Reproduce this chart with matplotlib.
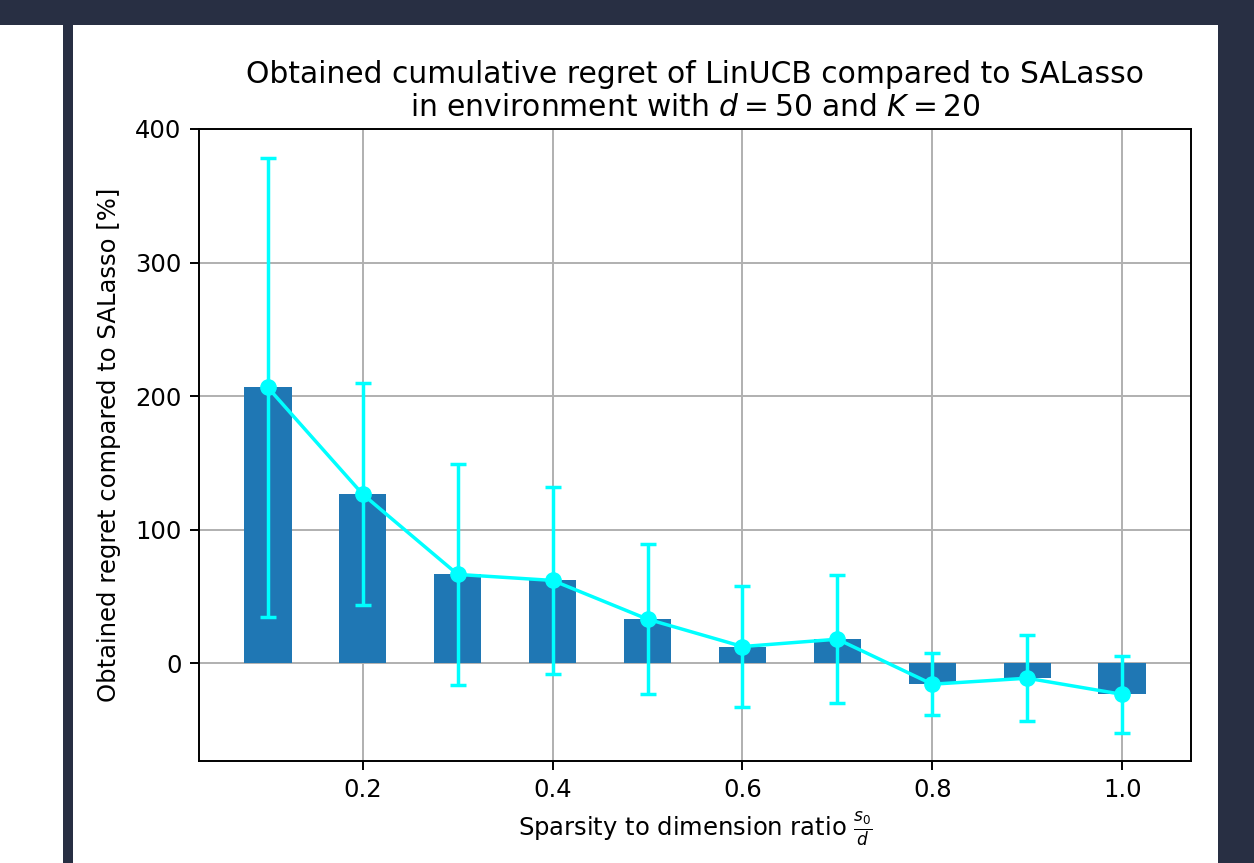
import matplotlib
matplotlib.use("Agg")
import matplotlib.pyplot as plt
from matplotlib.patches import Rectangle

ratios = [0.1, 0.2, 0.3, 0.4, 0.5, 0.6, 0.7, 0.8, 0.9, 1.0]
regret = [206.5, 126.5, 66.5, 62.0, 33.0, 12.5, 18.0, -15.7, -11.2, -23.3]
regret_err = [172.0, 83.0, 83.0, 70.0, 56.0, 45.0, 48.0, 23.0, 32.0, 28.8]
xticks = [0.2, 0.4, 0.6, 0.8, 1.0]
yticks = [0, 100, 200, 300, 400]

W, H = 1254, 863
fig = plt.figure(figsize=(W / 100, H / 100), dpi=100)
fig.patch.set_facecolor("#282f43")

def px_rect(x0, y0, x1, y1, color):
    fig.patches.append(Rectangle((x0 / W, 1 - y1 / H), (x1 - x0) / W, (y1 - y0) / H,
                                 transform=fig.transFigure, facecolor=color,
                                 edgecolor="none", zorder=-10))

px_rect(0, 25, 63, H, "white")
px_rect(73, 25, 1218, H, "white")

ax_l, ax_t, ax_r, ax_b = 199, 129, 1191, 761
ax = fig.add_axes([ax_l / W, 1 - ax_b / H, (ax_r - ax_l) / W, (ax_b - ax_t) / H])
ax.set_axisbelow(True)

ax.bar(ratios, regret, width=0.05, color="#1f77b4")
ax.errorbar(ratios, regret, yerr=regret_err, color="cyan", marker="o",
            markersize=11, linewidth=2.5, elinewidth=2.5, capsize=6,
            capthick=2.5)

ax.set_ylim(-73.2, 400)
ax.set_xticks(xticks)
ax.set_xticklabels([f"{v:.1f}" for v in xticks])
ax.set_yticks(yticks)
ax.grid(True, color="#b0b0b0", linewidth=1.4)
for s in ax.spines.values():
    s.set_linewidth(1.4)
ax.tick_params(labelsize=17.5, length=6.5, width=1.4, pad=6, colors="black")

ax.set_title("Obtained cumulative regret of LinUCB compared to SALasso\n"
             r"in environment with $d = 50$ and $K = 20$", fontsize=21.4, pad=9)
ax.set_xlabel(r"Sparsity to dimension ratio $\frac{s_0}{d}$", fontsize=17.5, labelpad=6)
ax.set_ylabel("Obtained regret compared to SALasso [%]", fontsize=17.5, labelpad=10)

fig.savefig("out.png", dpi=100, facecolor=fig.get_facecolor())
